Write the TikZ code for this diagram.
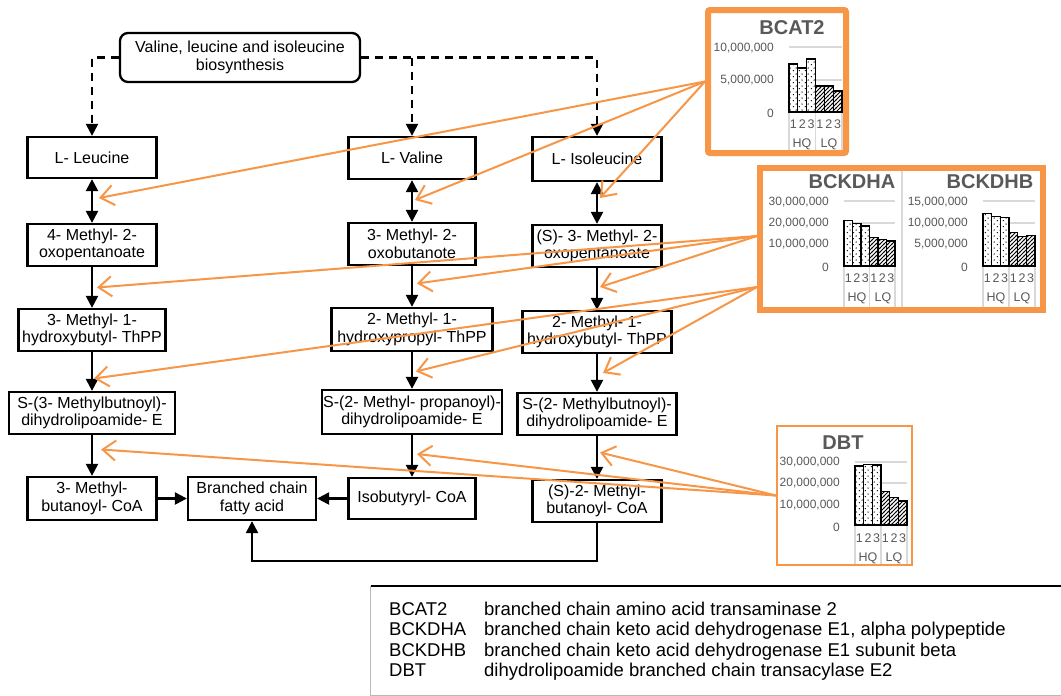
\documentclass[tikz,border=0pt]{standalone}
\usepackage{fontspec}
\setmainfont{Liberation Sans}
\usetikzlibrary{arrows.meta,calc,patterns}

\definecolor{geneorange}{RGB}{247,150,70}
\definecolor{axisgray}{RGB}{89,89,89}
\definecolor{gridgray}{RGB}{217,217,217}

\pgfdeclarepatternformonly{hqdots}{\pgfqpoint{0pt}{0pt}}{\pgfqpoint{6pt}{6pt}}{\pgfqpoint{6pt}{6pt}}{%
  \pgfpathcircle{\pgfqpoint{1.5pt}{1.5pt}}{0.75pt}%
  \pgfpathcircle{\pgfqpoint{4.5pt}{4.5pt}}{0.75pt}%
  \pgfusepath{fill}}
\pgfdeclarepatternformonly{lqhatch}{\pgfqpoint{-1pt}{-1pt}}{\pgfqpoint{5pt}{5pt}}{\pgfqpoint{4pt}{4pt}}{%
  \pgfsetlinewidth{0.9pt}%
  \pgfpathmoveto{\pgfqpoint{-0.5pt}{-0.5pt}}\pgfpathlineto{\pgfqpoint{4.5pt}{4.5pt}}%
  \pgfusepath{stroke}}

\begin{document}
\begin{tikzpicture}[x=1pt, y=-1pt,
  pathbox/.style={draw, line width=2.3pt, align=center, inner sep=0pt, minimum height=42pt, font=\fontsize{16}{17.5}\selectfont},
  biobox/.style={pathbox, rounded corners=8pt},
  flow/.style={line width=2.3pt, -{Triangle[length=12pt,width=12pt]}},
  revflow/.style={line width=2.3pt, {Triangle[length=12pt,width=12pt]}-{Triangle[length=12pt,width=12pt]}},
  dashflow/.style={flow, dash pattern=on 8pt off 6pt},
  genearrow/.style={draw=geneorange, line width=2pt, -{Straight Barb[length=13pt,width=20pt]}},
  panelframe/.style={draw=geneorange, line width=6pt, inner sep=0pt},
  charttitle/.style={inner sep=0pt, text=axisgray, font=\fontsize{20}{20}\selectfont\bfseries},
  axislabel/.style={anchor=east, inner sep=0pt, text=axisgray, font=\fontsize{12}{12}\selectfont},
  catlabel/.style={inner sep=0pt, text=axisgray, font=\fontsize{12.5}{12.5}\selectfont},
  gridline/.style={draw=gridgray, line width=1.3pt},
  catsep/.style={draw=gridgray, line width=1.3pt},
  hqbar/.style={line width=1.2pt, preaction={fill=white}, pattern=hqdots},
  lqbar/.style={line width=1.2pt, preaction={fill=white}, pattern=lqhatch}]
  \useasboundingbox[fill=white] (0,0) rectangle (1061,696);

  % pathway
  \node[biobox, minimum width=240pt, minimum height=49pt] (bio) at (240,57.5) {Valine, leucine and isoleucine\\biosynthesis};

  \node[pathbox, minimum width=129pt, minimum height=41pt] (leu)  at (92,157.5) {L- Leucine};
  \node[pathbox, minimum width=129pt] (mop)  at (92,245)   {4- Methyl- 2-\\oxopentanoate};
  \node[pathbox, minimum width=147pt] (mhb)  at (92,330)   {3- Methyl- 1-\\hydroxybutyl- ThPP};
  \node[pathbox, minimum width=166pt] (smb)  at (92,413)   {S-(3- Methylbutnoyl)-\\dihydrolipoamide- E};
  \node[pathbox, minimum width=129pt, minimum height=43pt] (mbc) at (92,498.5) {3- Methyl-\\butanoyl- CoA};
  \node[pathbox, minimum width=128pt, minimum height=43pt] (bcfa) at (252,498.5) {Branched chain\\fatty acid};

  \node[pathbox, minimum width=127pt] (val)  at (412,158)   {L- Valine};
  \node[pathbox, minimum width=127pt] (mob)  at (412,244)   {3- Methyl- 2-\\oxobutanote};
  \node[pathbox, minimum width=161pt, minimum height=43pt] (mhp) at (412,329.5) {2- Methyl- 1-\\hydroxypropyl- ThPP};
  \node[pathbox, minimum width=180pt, minimum height=44pt] (smp) at (412,412) {S-(2- Methyl- propanoyl)-\\dihydrolipoamide- E};
  \node[pathbox, minimum width=127pt, minimum height=41pt] (ibc) at (412,498.5) {Isobutyryl- CoA};

  \node[pathbox, minimum width=129pt, minimum height=44pt] (ile) at (597,159) {L- Isoleucine};
  \node[pathbox, minimum width=129pt] (smo)  at (597,246)   {(S)- 3- Methyl- 2-\\oxopentanoate};
  \node[pathbox, minimum width=149pt] (mhbi) at (597,332)   {2- Methyl- 1-\\hydroxybutyl- ThPP};
  \node[pathbox, minimum width=159pt] (smbi) at (597,414)   {S-(2- Methylbutnoyl)-\\dihydrolipoamide- E};
  \node[pathbox, minimum width=129pt] (smbc) at (597,501)   {(S)-2- Methyl-\\butanoyl- CoA};

  \draw[dashflow] (bio.west) -| (leu.north);
  \draw[dashflow] (bio.east) -| (ile.north);
  \draw[dashflow] (bio.east -| val.north) -- (val.north);

  \draw[revflow] (leu) -- (mop);
  \draw[flow] (mop) -- (mhb);
  \draw[flow] (mhb) -- (smb);
  \draw[flow] (smb) -- (mbc);
  \draw[revflow] (val) -- (mob);
  \draw[flow] (mob) -- (mhp);
  \draw[flow] (mhp) -- (smp);
  \draw[flow] (smp) -- (ibc);
  \draw[revflow] (ile) -- (smo);
  \draw[flow] (smo) -- (mhbi);
  \draw[flow] (mhbi) -- (smbi);
  \draw[flow] (smbi) -- (smbc);
  \draw[flow] (mbc) -- (bcfa);
  \draw[flow] (ibc) -- (bcfa);
  \draw[flow] (smbc.south) -- ++(0,38) -| (bcfa.south);

  % BCAT2 chart
  \node[charttitle] (bcatT) at (792,28) {BCAT2};
  \node[axislabel] (bcatY1) at (774,48) {10,000,000};
  \node[axislabel] (bcatY2) at (774,80) {5,000,000};
  \node[axislabel] (bcatY3) at (774,113) {0};
  \draw[gridline] (789,47) -- (842,47);
  \draw[gridline] (789,80) -- (842,80);
  \foreach \i/\t in {0/64,1/68,2/59}
    \draw[hqbar] ({789+\i*8.83},112) rectangle ({789+(\i+1)*8.83},\t);
  \foreach \i/\t in {3/86,4/86,5/91}
    \draw[lqbar] ({789+\i*8.83},112) rectangle ({789+(\i+1)*8.83},\t);
  \foreach \x in {789,815.5,842}
    \draw[catsep] (\x,113) -- (\x,152);
  \foreach \i/\c in {0/1,1/2,2/3,3/1,4/2,5/3}
    \node[catlabel] (bcatC\i) at ({789+(\i+.5)*8.83},124) {\c};
  \node[catlabel] (bcatHQ) at (802,144) {HQ};
  \node[catlabel] (bcatLQ) at (829,144) {LQ};

  % BCKDHA chart
  \draw[gridgray, line width=1.5pt] (902,168) -- (902,310);
  \node[charttitle] (bckaT) at (852,182) {BCKDHA};
  \node[axislabel] (bckaY1) at (829,202) {30,000,000};
  \node[axislabel] (bckaY2) at (829,223) {20,000,000};
  \node[axislabel] (bckaY3) at (829,244) {10,000,000};
  \node[axislabel] (bckaY4) at (829,267) {0};
  \foreach \y in {201,223,244}
    \draw[gridline] (844,\y) -- (895,\y);
  \foreach \i/\t in {0/220.7,1/223.3,2/226}
    \draw[hqbar] ({844+\i*8.5},266) rectangle ({844+(\i+1)*8.5},\t);
  \foreach \i/\t in {3/237.3,4/239.3,5/241}
    \draw[lqbar] ({844+\i*8.5},266) rectangle ({844+(\i+1)*8.5},\t);
  \foreach \x in {844,869.5,895}
    \draw[catsep] (\x,267) -- (\x,307);
  \foreach \i/\c in {0/1,1/2,2/3,3/1,4/2,5/3}
    \node[catlabel] (bckaC\i) at ({844+(\i+.5)*8.5},278) {\c};
  \node[catlabel] (bckaHQ) at (857,298) {HQ};
  \node[catlabel] (bckaLQ) at (883,298) {LQ};

  % BCKDHB chart
  \node[charttitle] (bckbT) at (990,182) {BCKDHB};
  \node[axislabel] (bckbY1) at (968,202) {15,000,000};
  \node[axislabel] (bckbY2) at (968,223) {10,000,000};
  \node[axislabel] (bckbY3) at (968,244) {5,000,000};
  \node[axislabel] (bckbY4) at (968,267) {0};
  \foreach \y in {201,223,244}
    \draw[gridline] (983,\y) -- (1035,\y);
  \foreach \i/\t in {0/213.3,1/216.7,2/217.7}
    \draw[hqbar] ({983+\i*8.67},266) rectangle ({983+(\i+1)*8.67},\t);
  \foreach \i/\t in {3/232.7,4/236.7,5/235.3}
    \draw[lqbar] ({983+\i*8.67},266) rectangle ({983+(\i+1)*8.67},\t);
  \foreach \x in {983,1009,1035}
    \draw[catsep] (\x,267) -- (\x,307);
  \foreach \i/\c in {0/1,1/2,2/3,3/1,4/2,5/3}
    \node[catlabel] (bckbC\i) at ({983+(\i+.5)*8.67},278) {\c};
  \node[catlabel] (bckbHQ) at (996,298) {HQ};
  \node[catlabel] (bckbLQ) at (1022,298) {LQ};

  % DBT chart
  \node[charttitle] (dbtT) at (843,443) {DBT};
  \node[axislabel] (dbtY1) at (840,462) {30,000,000};
  \node[axislabel] (dbtY2) at (840,483) {20,000,000};
  \node[axislabel] (dbtY3) at (840,505) {10,000,000};
  \node[axislabel] (dbtY4) at (840,527) {0};
  \foreach \y in {462,483,504}
    \draw[gridline] (855,\y) -- (907,\y);
  \foreach \i/\t in {0/466,1/464.3,2/465}
    \draw[hqbar] ({855+\i*8.67},525) rectangle ({855+(\i+1)*8.67},\t);
  \foreach \i/\t in {3/491.7,4/497.7,5/501}
    \draw[lqbar] ({855+\i*8.67},525) rectangle ({855+(\i+1)*8.67},\t);
  \foreach \x in {855,881,907}
    \draw[catsep] (\x,526) -- (\x,564);
  \foreach \i/\c in {0/1,1/2,2/3,3/1,4/2,5/3}
    \node[catlabel] (dbtC\i) at ({855+(\i+.5)*8.67},538) {\c};
  \node[catlabel] (dbtHQ) at (868,558) {HQ};
  \node[catlabel] (dbtLQ) at (894,558) {LQ};

  % panel frames
  \node[panelframe, minimum width=138pt, minimum height=143pt, rounded corners=2pt] (bcat) at (777,81.5) {};
  \node[panelframe, minimum width=283pt, minimum height=142pt] (bckd) at (901.5,239) {};
  \node[panelframe, line width=2pt, minimum width=135pt, minimum height=139pt] (dbt) at (844.5,495.5) {};

  % legend
  \node[minimum width=700pt, minimum height=109pt, inner sep=0pt] (legbox) at (721,640.5) {};
  \draw[gray!55, line width=1pt] (legbox.north west) -- (legbox.south west) -- (legbox.south east);
  \draw[line width=2pt] (legbox.north west) -- (legbox.north east);
  \node[anchor=north west, inner sep=0pt, font=\fontsize{18.5}{20.3}\selectfont] (legtext) at (389,601) {%
    \begin{tabular}{@{}p{95pt}@{}l@{}}
      BCAT2  & branched chain amino acid transaminase 2\\
      BCKDHA & branched chain keto acid dehydrogenase E1, alpha polypeptide\\
      BCKDHB & branched chain keto acid dehydrogenase E1 subunit beta\\
      DBT    & dihydrolipoamide branched chain transacylase E2
    \end{tabular}};

  % enzyme arrows
  \coordinate (bckA) at ($(bckd.west)+(0,-3)$);
  \coordinate (bckB) at ($(bckd.west)+(0,48)$);
  \coordinate (tLeu1) at ($(leu.south)!.5!(mop.north)+(7,-3)$);
  \coordinate (tVal1) at ($(val.south)!.5!(mob.north)+(3,-1)$);
  \coordinate (tIle1) at ($(ile.south)!.5!(smo.north)+(3,-5)$);
  \coordinate (tLeu2) at ($(mop.south)!.5!(mhb.north)+(5,0)$);
  \coordinate (tVal2) at ($(mob.south)!.5!(mhp.north)+(5,-3)$);
  \coordinate (tIle2) at ($(smo.south)!.5!(mhbi.north)+(3,-2)$);
  \coordinate (tLeu3) at ($(mhb.south)!.5!(smb.north)+(2,7)$);
  \coordinate (tVal3) at ($(mhp.south)!.5!(smp.north)+(4,1)$);
  \coordinate (tIle3) at ($(mhbi.south)!.5!(smbi.north)+(6,0)$);
  \coordinate (tLeu4) at ($(smb.south)!.5!(mbc.north)+(9,-6)$);
  \coordinate (tVal4) at ($(smp.south)!.5!(ibc.north)+(5,-2)$);
  \coordinate (tIle4) at ($(smbi.south)!.5!(smbc.north)+(3,-5)$);

  \draw[genearrow] (bcat.west) -- (tLeu1);
  \draw[genearrow] (bcat.west) -- (tVal1);
  \draw[genearrow] (bcat.west) -- (tIle1);
  \draw[genearrow] (bckA) -- (tLeu2);
  \draw[genearrow] (bckA) -- (tVal2);
  \draw[genearrow] (bckA) -- (tIle2);
  \draw[genearrow] (bckB) -- (tLeu3);
  \draw[genearrow] (bckB) -- (tVal3);
  \draw[genearrow] (bckB) -- (tIle3);
  \draw[genearrow] (dbt.west) -- (tLeu4);
  \draw[genearrow] (dbt.west) -- (tVal4);
  \draw[genearrow] (dbt.west) -- (tIle4);
\end{tikzpicture}
\end{document}
